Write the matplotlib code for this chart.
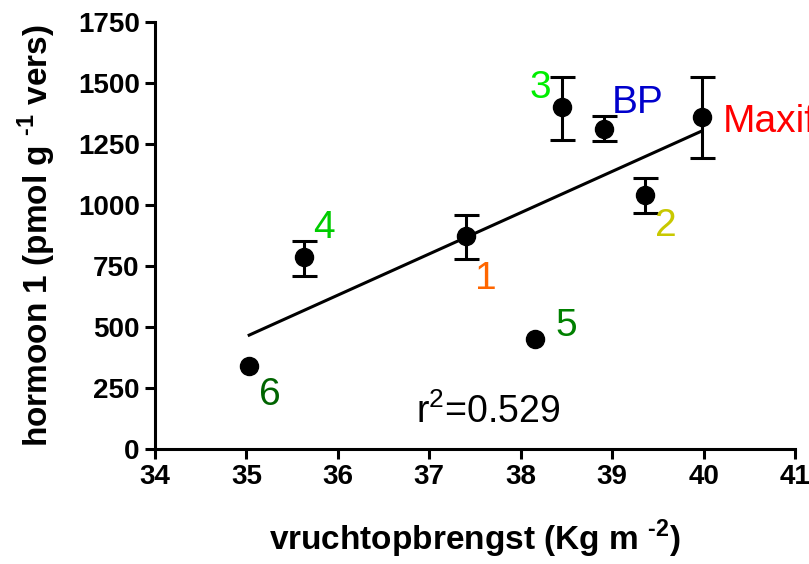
import matplotlib.pyplot as plt
import numpy as np

plt.rcParams['font.family'] = ['Liberation Sans', 'DejaVu Sans']
plt.rcParams['mathtext.fontset'] = 'custom'
plt.rcParams['mathtext.rm'] = 'Liberation Sans'
plt.rcParams['mathtext.bf'] = 'Liberation Sans:bold'

# data
names = ['6', '4', '1', '5', '3', 'BP', '2', 'Maxifort']
x = np.array([35.03, 35.63, 37.40, 38.16, 38.45, 38.91, 39.36, 39.98])
y = np.array([340, 787, 873, 451, 1402, 1311, 1041, 1361])
err_lo = np.array([0, 77, 94, 0, 136, 49, 74, 168])
err_hi = np.array([0, 65, 86, 0, 123, 54, 70, 164])
colors = ['#006400', '#00cc00', '#ff6600', '#008000', '#00ee00', '#0000cc', '#c8c800', '#ff0000']
lab_x = [35.26, 35.85, 37.62, 38.50, 38.21, 39.28, 39.59, 40.21]
lab_y = [221, 906, 697, 504, 1480, 1418, 914, 1340]
lab_ha = ['center', 'center', 'center', 'center', 'center', 'center', 'center', 'left']

fig = plt.figure(figsize=(8.09, 5.64), dpi=100)
ax = fig.add_axes([0.1916, 0.2039, 0.7911, 0.7571])

#linear fit
k, b = np.polyfit(x, y, 1)
xf = np.array([x.min(), x.max()])
ax.plot(xf, k*xf + b, color='black', lw=2.2, zorder=2)

m = err_hi > 0
ax.errorbar(x[m], y[m], yerr=[err_lo[m], err_hi[m]], fmt='none', ecolor='black',
            elinewidth=2.2, capsize=9, capthick=2.2, zorder=3)
ax.plot(x, y, 'o', color='black', ms=13, zorder=4)

for i in range(len(names)):
    ax.text(lab_x[i], lab_y[i], names[i], color=colors[i], fontsize=28,
            ha=lab_ha[i], va='center', clip_on=False)

ax.text(37.64, 152, r'r$^2$=0.529', fontsize=27, ha='center', va='center')

for s in ['top', 'right']:
    ax.spines[s].set_visible(False)
for s in ['left', 'bottom']:
    ax.spines[s].set_linewidth(2.2)

ax.set_xlim(34, 41)
ax.set_ylim(0, 1750)
ax.set_xticks(np.arange(34, 41.1, 1))
ax.set_yticks(np.arange(0, 1751, 250))
ax.tick_params(direction='out', length=7, width=2.2, labelsize=20, pad=4)
for t in ax.get_xticklabels() + ax.get_yticklabels():
    t.set_fontweight('bold')

ax.set_xlabel('vruchtopbrengst (Kg m $^{\\mathbf{\u20102}}$)', fontsize=24, fontweight='bold', labelpad=20)
ax.set_ylabel('hormoon 1 (pmol g $^{\\mathbf{\u20101}}$ vers)', fontsize=24, fontweight='bold', labelpad=14)

plt.savefig('out.png', dpi=100)
